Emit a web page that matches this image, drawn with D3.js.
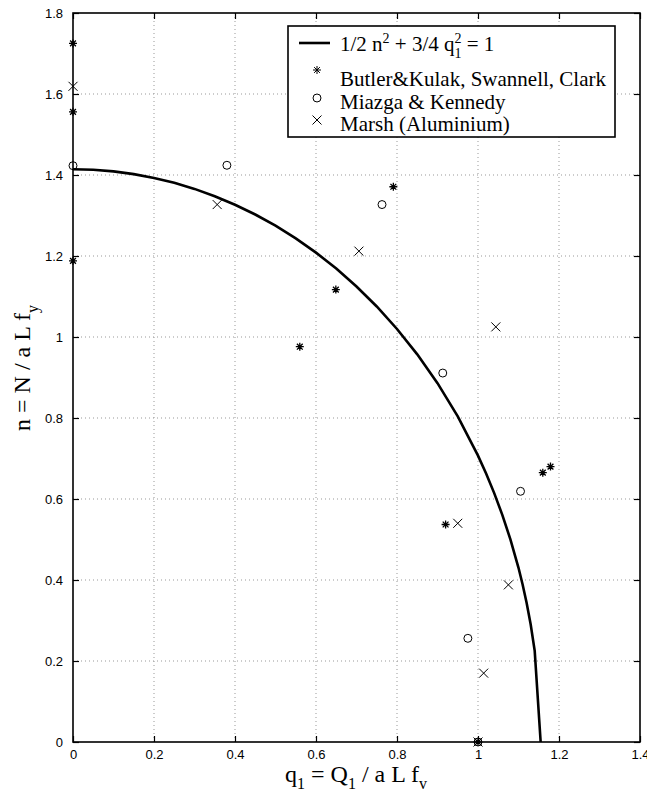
<!DOCTYPE html>
<html>
<head>
<meta charset="utf-8">
<script src="https://cdn.jsdelivr.net/npm/d3@7"></script>
<style>
    body { margin: 0; background: #fff; }
    .tick text { font-family: "Liberation Sans", Arial, sans-serif; font-size: 13px; fill: #000; }
    .grid line { stroke: #999; stroke-dasharray: 1,3; stroke-width: 1; }
    .serif { font-family: "Liberation Serif", "Times New Roman", serif; fill: #000; }
</style>
</head>
<body>
<svg id="chart" width="647" height="793"></svg>
<script>
// theory curve 1/2 n^2 + 3/4 q1^2 = 1
const curveQ = [0, 0.05, 0.1, 0.15, 0.2, 0.25, 0.3, 0.35, 0.4, 0.45, 0.5, 0.55, 0.6, 0.65, 0.7,
    0.75, 0.8, 0.85, 0.9, 0.95, 1.0, 1.02, 1.04, 1.06, 1.08, 1.1, 1.11, 1.12, 1.13, 1.14, 1.1547];
const curveN = [1.4142, 1.4129, 1.4089, 1.4022, 1.3928, 1.3807, 1.3657, 1.3477, 1.3266, 1.3024,
    1.2748, 1.2435, 1.2083, 1.1689, 1.1247, 1.0753, 1.0198, 0.9572, 0.8860, 0.8039, 0.7071,
    0.6629, 0.6145, 0.5609, 0.5004, 0.4301, 0.3897, 0.3441, 0.2909, 0.2249, 0];

// Butler&Kulak, Swannell, Clark
const butlerQ = [0, 0, 0, 0.56, 0.649, 0.791, 0.92, 1.16, 1.179, 1.0];
const butlerN = [1.725, 1.556, 1.188, 0.976, 1.117, 1.371, 0.537, 0.665, 0.68, 0];

// Miazga & Kennedy
const miazgaQ = [0, 0.38, 0.763, 0.913, 1.105, 0.975, 1.0];
const miazgaN = [1.423, 1.424, 1.327, 0.911, 0.619, 0.256, 0];

// Marsh (Aluminium)
const marshQ = [0, 0.356, 0.706, 1.044, 0.95, 1.075, 1.014, 1.0];
const marshN = [1.619, 1.327, 1.212, 1.025, 0.54, 0.388, 0.17, 0];

const xTicks = [0, 0.2, 0.4, 0.6, 0.8, 1, 1.2, 1.4];
const yTicks = [0, 0.2, 0.4, 0.6, 0.8, 1, 1.2, 1.4, 1.6, 1.8];

const margin = {top: 13, right: 7, bottom: 51, left: 73};
const width = 647 - margin.left - margin.right;
const height = 793 - margin.top - margin.bottom;

const svg = d3.select("#chart");
const g = svg.append("g")
    .attr("transform", "translate(" + margin.left + "," + margin.top + ")");

const x = d3.scaleLinear().domain([0, 1.4]).range([0, width]);
const y = d3.scaleLinear().domain([0, 1.8]).range([height, 0]);

function fmt(d) { return d === 0 ? "0" : String(d); }

// grid
g.append("g").attr("class", "grid")
    .selectAll("line").data(xTicks.slice(1, -1)).join("line")
    .attr("x1", d => x(d)).attr("x2", d => x(d))
    .attr("y1", 0).attr("y2", height);
g.append("g").attr("class", "grid")
    .selectAll("line").data(yTicks.slice(1, -1)).join("line")
    .attr("y1", d => y(d)).attr("y2", d => y(d))
    .attr("x1", 0).attr("x2", width);

// axes with inward ticks
const tickLen = 6;
const xAxis = g.append("g")
    .attr("transform", "translate(0," + height + ")")
    .call(d3.axisBottom(x).tickValues(xTicks).tickFormat(fmt).tickSizeInner(-tickLen).tickSizeOuter(0).tickPadding(tickLen + 5));
const yAxis = g.append("g")
    .call(d3.axisLeft(y).tickValues(yTicks).tickFormat(fmt).tickSizeInner(-tickLen).tickSizeOuter(0).tickPadding(tickLen + 4));
const xAxisTop = g.append("g")
    .call(d3.axisTop(x).tickValues(xTicks).tickFormat("").tickSizeInner(-tickLen).tickSizeOuter(0));
const yAxisRight = g.append("g")
    .attr("transform", "translate(" + width + ",0)")
    .call(d3.axisRight(y).tickValues(yTicks).tickFormat("").tickSizeInner(-tickLen).tickSizeOuter(0));
[xAxis, yAxis, xAxisTop, yAxisRight].forEach(a => {
    a.select(".domain").remove();
    a.selectAll(".tick line").attr("stroke", "#000").attr("stroke-width", 1.2);
});
xAxis.selectAll(".tick text").attr("dy", "0.45em");
yAxis.selectAll(".tick text").attr("dy", "0.35em");

// frame
g.append("rect")
    .attr("x", 0).attr("y", 0).attr("width", width).attr("height", height)
    .attr("fill", "none").attr("stroke", "#000").attr("stroke-width", 1.6);

// theory curve
const curve = curveQ.map((q, i) => [q, curveN[i]]);
g.append("path")
    .datum(curve)
    .attr("fill", "none")
    .attr("stroke", "#000")
    .attr("stroke-width", 2.6)
    .attr("d", d3.line().x(d => x(d[0])).y(d => y(d[1])));

// markers
function markerPath(type) {
    if (type === "star") {
        let r = 4, s = 2.9;
        return "M" + (-r) + ",0L" + r + ",0M0," + (-r) + "L0," + r +
            "M" + (-s) + "," + (-s) + "L" + s + "," + s + "M" + (-s) + "," + s + "L" + s + "," + (-s);
    }
    if (type === "cross") {
        let r = 4.5;
        return "M" + (-r) + "," + (-r) + "L" + r + "," + r + "M" + (-r) + "," + r + "L" + r + "," + (-r);
    }
    return d3.symbol(d3.symbolCircle, 50)();
}

function drawSeries(qs, ns, type) {
    g.append("g").selectAll("path")
        .data(qs.map((q, i) => [q, ns[i]]))
        .join("path")
        .attr("transform", d => "translate(" + x(d[0]) + "," + y(d[1]) + ")")
        .attr("d", markerPath(type))
        .attr("fill", "none")
        .attr("stroke", "#000")
        .attr("stroke-width", type === "star" ? 1.3 : 1);
}
drawSeries(butlerQ, butlerN, "star");
drawSeries(miazgaQ, miazgaN, "circle");
drawSeries(marshQ, marshN, "cross");

// legend
const legend = svg.append("g").attr("transform", "translate(288,26)");
legend.append("rect")
    .attr("width", 327).attr("height", 111)
    .attr("fill", "#fff").attr("stroke", "#000").attr("stroke-width", 1.6);
legend.append("line")
    .attr("x1", 11).attr("x2", 42).attr("y1", 17).attr("y2", 17)
    .attr("stroke", "#000").attr("stroke-width", 2.6);

const eq = legend.append("text").attr("class", "serif")
    .attr("x", 52).attr("y", 25).style("font-size", "21px");
eq.append("tspan").text("1/2 n");
eq.append("tspan").attr("dy", -8).style("font-size", "14px").text("2");
eq.append("tspan").attr("dy", 8).text(" + 3/4 q");
eq.append("tspan").attr("dy", -8).style("font-size", "14px").text("2");
eq.append("tspan").attr("dx", -7).attr("dy", 15).style("font-size", "14px").text("1");
eq.append("tspan").attr("dy", -7).text(" = 1");

const legendItems = [
    {type: "star", label: "Butler&Kulak, Swannell, Clark", my: 44, ty: 60},
    {type: "circle", label: "Miazga & Kennedy", my: 72, ty: 83},
    {type: "cross", label: "Marsh (Aluminium)", my: 94, ty: 105}
];
legendItems.forEach(it => {
    legend.append("path")
        .attr("transform", "translate(29," + it.my + ")")
        .attr("d", markerPath(it.type))
        .attr("fill", "none").attr("stroke", "#000").attr("stroke-width", 1);
    legend.append("text").attr("class", "serif")
        .attr("x", 52).attr("y", it.ty)
        .style("font-size", "21px")
        .text(it.label);
});

// axis labels
const xl = svg.append("text").attr("class", "serif")
    .attr("x", 356).attr("y", 782)
    .attr("text-anchor", "middle")
    .style("font-size", "24px");
xl.append("tspan").text("q");
xl.append("tspan").attr("dy", 7).style("font-size", "16px").text("1");
xl.append("tspan").attr("dy", -7).text(" = Q");
xl.append("tspan").attr("dy", 7).style("font-size", "16px").text("1");
xl.append("tspan").attr("dy", -7).text(" / a L f");
xl.append("tspan").attr("dy", 7).style("font-size", "16px").text("v");

const yl = svg.append("text").attr("class", "serif")
    .attr("transform", "translate(30,368) rotate(-90)")
    .attr("text-anchor", "middle")
    .style("font-size", "24px");
yl.append("tspan").text("n = N / a L f");
yl.append("tspan").attr("dy", 8).style("font-size", "16px").text("y");
</script>
</body>
</html>
